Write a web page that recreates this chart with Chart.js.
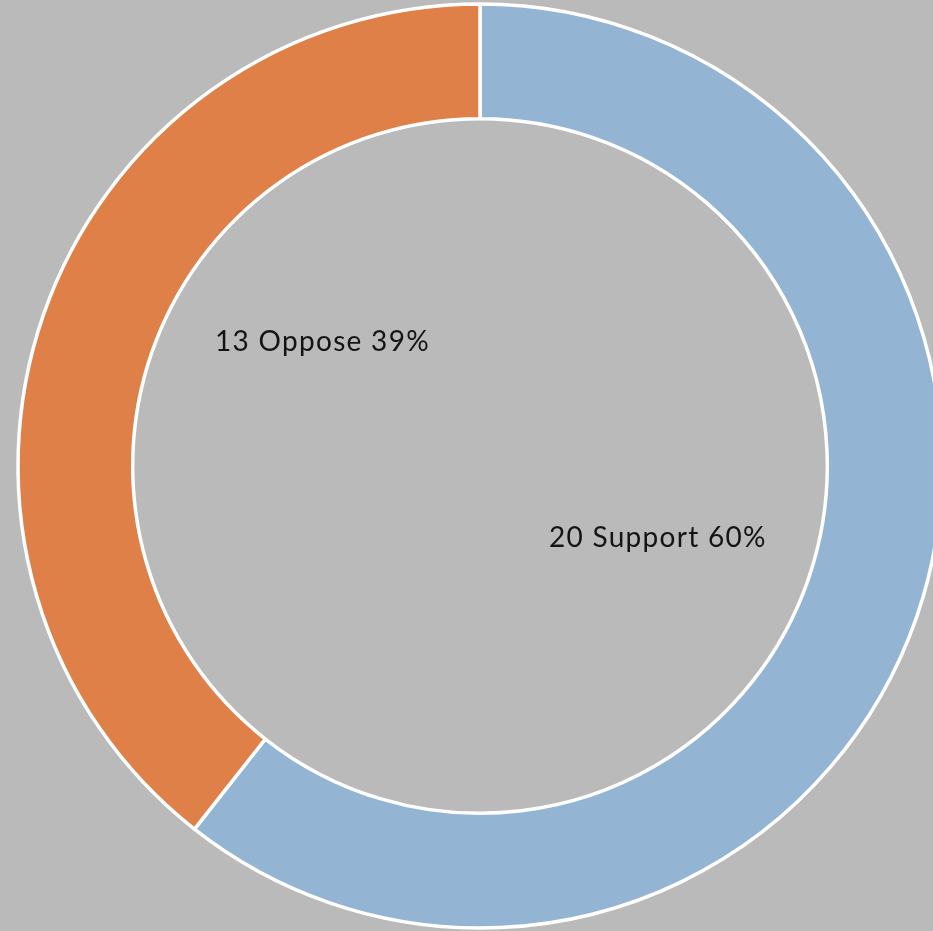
<!DOCTYPE html>
<html>
<head>
<meta charset="utf-8">
<script src="https://cdn.jsdelivr.net/npm/chart.js@4/dist/chart.umd.min.js"></script>
<style>
  html, body { margin: 0; padding: 0; background: #bababa; overflow: hidden; }
  #wrap { position: relative; width: 960px; height: 932px; }
</style>
</head>
<body>
<div id="wrap"><canvas id="chart"></canvas></div>
<script>
const categories = ['Support', 'Oppose'];
const counts = [20, 13];
const percents = ['60%', '39%'];
const sliceColors = ['#93b4d3', '#de8047'];

// label spots, as fractions of the outer radius from the centre
const labelSpots = [[0.385, 0.156], [-0.341, -0.269]];

const sliceLabels = {
    id: 'sliceLabels',
    afterDatasetsDraw(chart) {
        const ctx = chart.ctx;
        const arcs = chart.getDatasetMeta(0).data;
        ctx.save();
        ctx.font = '28px Lato';
        ctx.letterSpacing = '1.3px';
        ctx.fillStyle = '#141414';
        ctx.textAlign = 'center';
        ctx.textBaseline = 'middle';
        arcs.forEach((arc, i) => {
            const r = arc.outerRadius;
            const x = arc.x + labelSpots[i][0] * r;
            const y = arc.y + labelSpots[i][1] * r;
            ctx.fillText(counts[i] + ' ' + categories[i] + ' ' + percents[i], x, y);
        });
        ctx.restore();
    }
};

new Chart(document.getElementById('chart'), {
    type: 'doughnut',
    data: {
        labels: categories,
        datasets: [{
            data: counts,
            backgroundColor: sliceColors,
            borderColor: '#ffffff',
            borderWidth: 3.5,
            radius: 462,
            cutout: 349
        }]
    },
    options: {
        responsive: true,
        maintainAspectRatio: false,
        animation: false,
        plugins: {
            legend: { display: false },
            tooltip: { enabled: false }
        }
    },
    plugins: [sliceLabels]
});
</script>
</body>
</html>
